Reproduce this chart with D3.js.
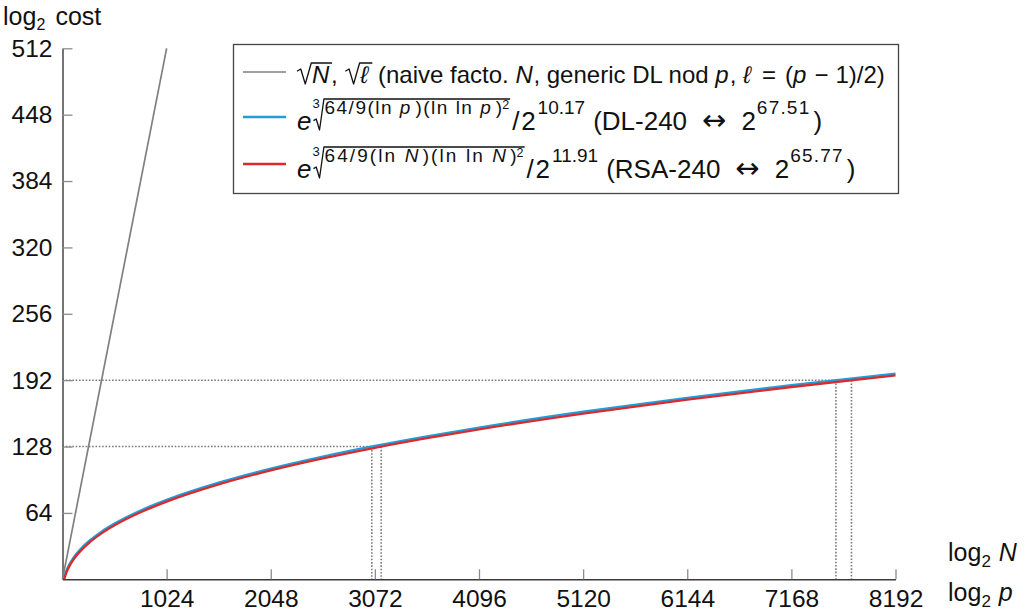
<!DOCTYPE html>
<html>
<head>
<meta charset="utf-8">
<script src="https://cdn.jsdelivr.net/npm/d3@7"></script>
<style>
  body { margin: 0; background: #fff; }
  svg { font-family: "Liberation Sans", Arial, sans-serif; }
</style>
</head>
<body>
<div id="chart"></div>
<script>
// chart size and plot box
const width = 1028;
const height = 614;
const plot = {left: 62.5, right: 895.5, top: 48.3, bottom: 579.3};

// tick values
const xTicks = [1024, 2048, 3072, 4096, 5120, 6144, 7168, 8192];
const yTicks = [64, 128, 192, 256, 320, 384, 448, 512];

// curves (log2 N or log2 p  ->  log2 cost)
const logBits = [18, 24, 32, 48, 64, 96, 128, 192, 256, 384, 512, 768, 1024,
                 1536, 2048, 2560, 3072, 3584, 4096, 5120, 6144, 7168, 8192];
const dlCost  = [1.76, 3.94, 6.40, 10.42, 13.71, 19.09, 23.49, 30.64, 36.49, 46.00, 53.76, 66.34, 76.60,
                 93.20, 106.71, 118.30, 128.57, 137.83, 146.33, 161.55, 175.01, 187.17, 198.30];
const rsaCost = [0.02, 2.20, 4.66, 8.68, 11.97, 17.35, 21.75, 28.90, 34.75, 44.26, 52.02, 64.60, 74.86,
                 91.46, 104.97, 116.56, 126.83, 136.09, 144.59, 159.81, 173.27, 185.43, 196.56];

// naive sqrt line
const naiveBits = [0, 1024];
const naiveCost = [0, 512];

// dotted guides: cost level and where each curve hits it
const guideLevels = [128, 192];
const guideDL  = [3042, 7606];
const guideRSA = [3134, 7759];

const svg = d3.select("#chart")
  .append("svg")
  .attr("width", width)
  .attr("height", height);

const xScale = d3.scaleLinear().domain([0, 8192]).range([plot.left, plot.right]);
const yScale = d3.scaleLinear().domain([0, 512]).range([plot.bottom, plot.top]);

// dotted guides
const guides = svg.append("g")
  .attr("stroke", "#7a7a7a")
  .attr("stroke-width", 1.6)
  .attr("stroke-dasharray", "1.6 1.7")
  .attr("fill", "none");

guideLevels.forEach((lv, i) => {
  guides.append("line")
    .attr("x1", xScale(0)).attr("x2", xScale(guideRSA[i]))
    .attr("y1", yScale(lv)).attr("y2", yScale(lv));
  [guideDL[i], guideRSA[i]].forEach(b => {
    guides.append("line")
      .attr("x1", xScale(b)).attr("x2", xScale(b))
      .attr("y1", yScale(lv)).attr("y2", yScale(0));
  });
});

// axes, ticks pointing inside
const xAxis = svg.append("g")
  .attr("transform", `translate(0,${plot.bottom})`)
  .call(d3.axisBottom(xScale).tickValues(xTicks).tickSizeInner(-10).tickSizeOuter(0).tickPadding(10).tickFormat(d3.format("d")));
const yAxis = svg.append("g")
  .attr("transform", `translate(${plot.left},0)`)
  .call(d3.axisLeft(yScale).tickValues(yTicks).tickSizeInner(-10).tickSizeOuter(0).tickPadding(10).tickFormat(d3.format("d")));

[xAxis, yAxis].forEach(ax => {
  ax.attr("font-family", null).attr("font-size", 24.5);
  ax.select(".domain").attr("stroke", "#3a3a3a").attr("stroke-width", 1.4);
  ax.selectAll(".tick line").attr("stroke", "#8c8c8c").attr("stroke-width", 1.3);
  ax.selectAll(".tick text").attr("fill", "#111");
});

// curves
const line = d3.line()
  .x(d => xScale(d[0]))
  .y(d => yScale(d[1]))
  .curve(d3.curveMonotoneX);

svg.append("path")
  .attr("d", line(d3.zip(naiveBits, naiveCost)))
  .attr("fill", "none").attr("stroke", "#808080").attr("stroke-width", 1.7);
svg.append("path")
  .attr("d", line(d3.zip(logBits, dlCost)))
  .attr("fill", "none").attr("stroke", "#1f9ed8").attr("stroke-width", 2.3);
svg.append("path")
  .attr("d", line(d3.zip(logBits, rsaCost)))
  .attr("fill", "none").attr("stroke", "#db2a2d").attr("stroke-width", 2.3);

// small layout helper for the math text: pieces placed left to right
// piece: {t, s, dy, it, ls, pre, gap, font}  or  {root: [pieces], top, bot, w, idx}
function runText(g, x, base, pieces, size) {
  let cx = x;
  pieces.forEach(p => {
    cx += p.pre || 0;
    if (p.root) {
      const x0 = cx;
      const top = base + p.top;
      const bot = base + p.bot;
      const inner = runText(g, x0 + p.w, base, p.root, size);
      g.append("path")
        .attr("d", `M${x0},${bot - p.w * 0.85} L${x0 + p.w * 0.25},${bot - p.w * 1.0} L${x0 + p.w * 0.55},${bot} L${x0 + p.w * 0.95},${top} L${inner + 1},${top}`)
        .attr("fill", "none").attr("stroke", "#111").attr("stroke-width", 1.3)
        .attr("stroke-linejoin", "round");
      if (p.idx) {
        g.append("text").attr("x", x0 - 1).attr("y", base + p.idxDy)
          .attr("font-size", 13).attr("fill", "#111").text(p.idx);
      }
      cx = inner + (p.gap || 0);
      return;
    }
    const t = g.append("text")
      .attr("x", cx).attr("y", base + (p.dy || 0))
      .attr("font-size", p.s || size || 25)
      .attr("fill", "#111")
      .style("font-style", p.it ? "italic" : "normal")
      .attr("xml:space", "preserve")
      .text(p.t);
    if (p.ls) t.attr("letter-spacing", p.ls);
    if (p.font) t.attr("font-family", p.font);
    cx += t.node().getBBox().width + (p.gap || 0);
  });
  return cx;
}

// axis titles
const labels = svg.append("g");
runText(labels, 3, 25, [{t: "log"}, {t: "2", s: 16, dy: 5, gap: 10}, {t: "cost"}]);
runText(labels, 948, 561, [{t: "log"}, {t: "2", s: 17, dy: 6, gap: 8}, {t: "N", it: true}]);
runText(labels, 948, 601, [{t: "log"}, {t: "2", s: 17, dy: 6, gap: 8}, {t: "p", it: true}]);

// legend
const legend = svg.append("g");
legend.append("rect")
  .attr("x", 233.5).attr("y", 44.5)
  .attr("width", 665).attr("height", 149)
  .attr("fill", "#fff").attr("stroke", "#444").attr("stroke-width", 1.3);

const legendRows = [
  {y: 72, color: "#808080", w: 1.7},
  {y: 117, color: "#1f9ed8", w: 2.3},
  {y: 164, color: "#db2a2d", w: 2.3}
];
legendRows.forEach(r => {
  legend.append("line")
    .attr("x1", 243).attr("x2", 286)
    .attr("y1", r.y).attr("y2", r.y)
    .attr("stroke", r.color).attr("stroke-width", r.w);
});

runText(legend, 297, 83, [
  {root: [{t: "N", it: true, gap: 1}], top: -20, bot: 1, w: 15},
  {t: ", ", gap: 1},
  {root: [{t: "ℓ", it: true, gap: 1}], top: -20, bot: 1, w: 15},
  {t: " (naive facto. "}, {t: "N", it: true}, {t: ", generic DL nod "},
  {t: "p", it: true}, {t: ", "}, {t: "ℓ", it: true},
  {t: "=", pre: 9, gap: 9}, {t: "("},
  {t: "p", it: true}, {t: "−", pre: 7, gap: 7}, {t: "1)/2)"}
], 24);

function expRow(base, v, vGap, ls, off, tag, bits) {
  runText(legend, 297, base, [
    {t: "e", it: true, gap: 2},
    {root: [
      {t: "64/9(ln ", s: 19, dy: -16, ls: ls}, {t: v, s: 19, dy: -16, it: true, gap: vGap},
      {t: ")(ln ln ", s: 19, dy: -16, ls: ls}, {t: v, s: 19, dy: -16, it: true, gap: vGap},
      {t: ")", s: 19, dy: -16}, {t: "2", s: 12.5, dy: -21}
    ], top: -31, bot: 0, w: 11, idx: "3", idxDy: -22, gap: 3},
    {t: "/", gap: 1}, {t: "2", gap: 2}, {t: off, s: 19, dy: -16.5, gap: 8},
    {t: "(" + tag, gap: 15}, {t: "↔", font: "DejaVu Sans", s: 29, gap: 15},
    {t: "2", gap: 1}, {t: bits, s: 19, dy: -16.5, ls: 1.2, gap: 3}, {t: ")"}
  ], 26);
}
expRow(130, "p", 4, 1.5, "10.17", "DL-240", "67.51");
expRow(178, "N", 4, 2.1, "11.91", "RSA-240", "65.77");
</script>
</body>
</html>
